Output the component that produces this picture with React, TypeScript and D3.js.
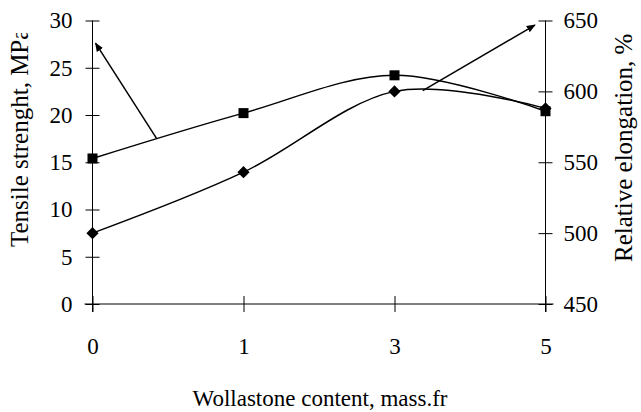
import React, { useEffect, useRef } from 'react';
import * as d3 from 'd3';

const categories = ['0', '1', '3', '5'];
const tensile = [15.4, 20.2, 24.2, 20.4];
const elongation = [500, 543, 600, 588];
const leftTicks = [0, 5, 10, 15, 20, 25, 30];
const rightTicks = [450, 500, 550, 600, 650];

// arrow annotations, [category index, axis value]
const arrowLeft = [[0.425, 17.5], [0.02, 27.6]];
const arrowRight = [[2.187, 600.5], [2.93, 646.8]];

const W = 641;
const H = 412;
const FONT = "'Liberation Serif', 'Times New Roman', 'DejaVu Serif', serif";

export default function App() {
  const svgRef = useRef<SVGSVGElement>(null);

  useEffect(() => {
    if (!svgRef.current) return;
    const svg = d3.select(svgRef.current);
    svg.selectAll('*').remove();

    const x0 = 92.5, x1 = 545.5, yTop = 20.5, yBot = 304;

    const xIdx = d3.scaleLinear().domain([0, categories.length - 1]).range([x0, x1]);
    const yL = d3.scaleLinear().domain([0, 30]).range([yBot, yTop]);
    const yR = d3.scaleLinear().domain([450, 650]).range([yBot, yTop]);

    const defs = svg.append('defs');
    defs.append('marker')
      .attr('id', 'arr')
      .attr('viewBox', '0 0 10 10')
      .attr('refX', 9)
      .attr('refY', 5)
      .attr('markerWidth', 6)
      .attr('markerHeight', 6)
      .attr('markerUnits', 'strokeWidth')
      .attr('orient', 'auto')
      .append('path')
      .attr('d', 'M0,1 L10,5 L0,9 Z')
      .attr('fill', '#000');
    defs.append('clipPath').attr('id', 'clipL')
      .append('rect').attr('x', 0).attr('y', 33).attr('width', 60).attr('height', 379);
    defs.append('clipPath').attr('id', 'clipR')
      .append('rect').attr('x', 590).attr('y', 27).attr('width', 51).attr('height', 385);

    // x axis
    const xAxis = svg.append('g')
      .attr('transform', `translate(0,${yBot})`)
      .call(d3.axisBottom(xIdx).tickValues(d3.range(categories.length)).tickSize(0)
        .tickFormat((d) => categories[d as number]));
    xAxis.select('.domain').remove();
    xAxis.append('line').attr('x1', x0 - 8).attr('x2', x1 + 8).attr('stroke', '#000');
    xAxis.selectAll('.tick line').attr('y1', -8).attr('y2', 8).attr('stroke', '#000');
    xAxis.selectAll('.tick text').attr('y', 50).attr('dy', 0);

    // left axis
    const lAxis = svg.append('g')
      .attr('transform', `translate(${x0},0)`)
      .call(d3.axisLeft(yL).tickValues(leftTicks).tickSize(0).tickPadding(20));
    lAxis.select('.domain').remove();
    lAxis.append('line').attr('y1', yTop).attr('y2', yBot + 8).attr('stroke', '#000');
    lAxis.selectAll('.tick line').attr('x1', -7).attr('x2', 7).attr('stroke', '#000');

    // right axis
    const rAxis = svg.append('g')
      .attr('transform', `translate(${x1},0)`)
      .call(d3.axisRight(yR).tickValues(rightTicks).tickSize(0).tickPadding(18));
    rAxis.select('.domain').remove();
    rAxis.append('line').attr('y1', yTop).attr('y2', yBot + 8).attr('stroke', '#000');
    rAxis.selectAll('.tick line').attr('x1', -7).attr('x2', 7).attr('stroke', '#000');

    [xAxis, lAxis, rAxis].forEach((a) => {
      a.attr('font-family', null).attr('font-size', null);
      a.selectAll('.tick text')
        .style('font-family', FONT).style('font-size', '23px').attr('fill', '#000');
    });

    // titles
    svg.append('text')
      .attr('x', 320).attr('y', 406)
      .attr('text-anchor', 'middle')
      .style('font-family', FONT).style('font-size', '23px')
      .text('Wollastone content, mass.fr');
    svg.append('g').attr('clip-path', 'url(#clipL)')
      .append('text')
      .attr('transform', 'translate(28,247) rotate(-90)')
      .style('font-family', FONT).style('font-size', '25px')
      .text('Tensile strenght, MPa');
    svg.append('g').attr('clip-path', 'url(#clipR)')
      .append('text')
      .attr('transform', 'translate(632,262) rotate(-90)')
      .style('font-family', FONT).style('font-size', '25px')
      .text('Relative elongation, %');

    // lines
    const curve = d3.curveCardinal.tension(0);
    const lineL = d3.line<number>().x((_, i) => xIdx(i)).y((d) => yL(d)).curve(curve);
    const lineR = d3.line<number>().x((_, i) => xIdx(i)).y((d) => yR(d)).curve(curve);

    svg.append('path').datum(elongation)
      .attr('fill', 'none').attr('stroke', '#000').attr('stroke-width', 1.5)
      .attr('d', lineR);
    svg.append('path').datum(tensile)
      .attr('fill', 'none').attr('stroke', '#000').attr('stroke-width', 1.5)
      .attr('d', lineL);

    // markers
    svg.selectAll('.sq').data(tensile).enter().append('rect')
      .attr('x', (_, i) => xIdx(i) - 5)
      .attr('y', (d) => yL(d) - 5)
      .attr('width', 10).attr('height', 10)
      .attr('fill', '#000');
    const diamond = d3.symbol().type(d3.symbolDiamond2).size(95);
    svg.selectAll('.dm').data(elongation).enter().append('path')
      .attr('transform', (d, i) => `translate(${xIdx(i)},${yR(d)})`)
      .attr('d', diamond())
      .attr('fill', '#000');

    // arrows
    svg.append('line')
      .attr('x1', xIdx(arrowLeft[0][0])).attr('y1', yL(arrowLeft[0][1]))
      .attr('x2', xIdx(arrowLeft[1][0])).attr('y2', yL(arrowLeft[1][1]))
      .attr('stroke', '#000').attr('stroke-width', 1.5)
      .attr('marker-end', 'url(#arr)');
    svg.append('line')
      .attr('x1', xIdx(arrowRight[0][0])).attr('y1', yR(arrowRight[0][1]))
      .attr('x2', xIdx(arrowRight[1][0])).attr('y2', yR(arrowRight[1][1]))
      .attr('stroke', '#000').attr('stroke-width', 1.5)
      .attr('marker-end', 'url(#arr)');
  }, []);

  return (
    <svg
      ref={svgRef}
      width={W}
      height={H}
      style={{ position: 'absolute', left: 0, top: 0, background: '#fff' }}
    />
  );
}
